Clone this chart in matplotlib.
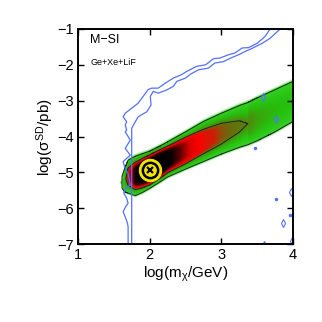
import numpy as np
import matplotlib
matplotlib.use("Agg")
import matplotlib.pyplot as plt
from matplotlib.colors import LinearSegmentedColormap

plt.rcParams['font.family'] = ['Liberation Sans', 'DejaVu Sans']
plt.rcParams['mathtext.fontset'] = 'custom'
plt.rcParams['mathtext.rm'] = 'Liberation Sans'
plt.rcParams['mathtext.it'] = 'Liberation Sans'

# posterior ridge: mass, centre, 68% and 95% half widths, peak height
ridge_m = [1.58, 1.61, 1.65, 1.67, 1.70, 1.80, 1.90, 2.00, 2.15, 2.25, 2.50, 2.75, 3.00, 3.25, 3.37, 3.50, 3.75, 4.00]
ridge_c = [-5.30, -5.28, -5.22, -5.18, -5.12, -5.10, -5.02, -4.93, -4.76, -4.64, -4.39, -4.14, -3.92, -3.72, -3.64, -3.52, -3.28, -3.02]
ridge_h95 = [0.00, 0.15, 0.32, 0.38, 0.46, 0.55, 0.54, 0.52, 0.50, 0.49, 0.52, 0.56, 0.57, 0.585, 0.59, 0.60, 0.59, 0.56]
ridge_h68 = [0.00, 0.00, 0.00, 0.00, 0.24, 0.38, 0.41, 0.42, 0.40, 0.37, 0.37, 0.34, 0.29, 0.16, 0.00, 0.00, 0.00, 0.00]
ridge_peak = [0.05, 0.10, 0.22, 0.30, 0.60, 0.88, 1.00, 1.00, 0.98, 0.93, 0.70, 0.45, 0.36, 0.32, 0.30, 0.25, 0.21, 0.19]
lev68, lev95, fringe = 0.30, 0.10, 0.08

# blue contours (other data set)
blue_out_x = [1.70, 1.70, 1.69, 1.66, 1.63, 1.67, 1.70, 1.68, 1.64, 1.66, 1.73, 1.70, 1.66, 1.63, 1.73, 1.66, 1.73, 1.66, 1.68, 1.66, 1.68, 1.63, 1.66,
              1.75, 1.84, 1.91, 1.98, 2.03, 2.12, 2.22, 2.33, 2.45, 2.52, 2.66, 2.78, 2.89, 2.98, 3.10, 3.19, 3.29, 3.38, 3.50, 3.61, 3.68]
blue_out_y = [-7.0, -6.52, -6.41, -6.24, -6.10, -5.94, -5.86, -5.72, -5.58, -5.45, -5.35, -5.03, -4.89, -4.70, -4.52, -4.33, -4.10, -3.87, -3.82, -3.68, -3.59, -3.45, -3.35,
              -3.21, -3.07, -2.88, -2.69, -2.65, -2.65, -2.51, -2.37, -2.27, -2.18, -2.04, -2.00, -1.83, -1.81, -1.72, -1.67, -1.53, -1.52, -1.40, -1.21, -1.0]
blue_in_x = [1.75, 1.75, 1.75, 1.80, 1.84, 1.96, 2.02, 2.01, 2.05, 2.12, 2.24, 2.33, 2.38, 2.50, 2.57, 2.68, 2.82, 2.91, 3.03, 3.12, 3.24, 3.33, 3.43, 3.57, 3.68, 3.82]
blue_in_y = [-7.0, -3.96, -3.77, -3.59, -3.45, -3.31, -3.12, -2.88, -2.74, -2.79, -2.70, -2.60, -2.46, -2.37, -2.26, -2.14, -2.09, -1.95, -1.91, -1.82, -1.72, -1.63, -1.54, -1.40, -1.26, -1.0]
island_x = [3.585, 3.763, 3.97, 3.865, 3.60, 3.99]
island_y = [-2.91, -3.52, -5.54, -6.42, -7.02, -6.92]
speck_x = [3.474, 3.76, 3.96]
speck_y = [-4.31, -5.73, -6.2]
bestfit_m, bestfit_s = 2.0, -4.93

xs = np.linspace(1, 4, 601)
ys = np.linspace(-7, -1, 601)
Z = np.zeros((len(ys), len(xs)))
for j, x in enumerate(xs):
    if x < ridge_m[0]:
        continue
    c = np.interp(x, ridge_m, ridge_c)
    h2 = np.interp(x, ridge_m, ridge_h95)
    h1 = np.interp(x, ridge_m, ridge_h68)
    a = np.interp(x, ridge_m, ridge_peak)
    d = np.abs(ys - c)
    if a > lev68 and h1 > 0:
        core = lev68 + (a - lev68) * (1 - (d / h1) ** 5)
        prof = np.where(d < h1, core, np.interp(d, [h1, h2, h2 + fringe], [lev68, lev95, 0]))
    elif a > lev95 and h2 > 0:
        core = lev95 + (a - lev95) * (1 - (d / h2) ** 2)
        prof = np.where(d < h2, core, np.interp(d, [h2, h2 + fringe], [lev95, 0]))
    else:
        prof = np.interp(d, [0, fringe], [a, 0])
    Z[:, j] = prof

cmap = LinearSegmentedColormap.from_list("post", [
    (0.0, (1, 1, 1)), (0.03, (0.85, 0.97, 0.85)), (0.07, (0.5, 0.9, 0.45)),
    (0.10, (0.2, 0.82, 0.15)), (0.2, (0.15, 0.75, 0.05)), (0.29, (0.3, 0.55, 0.05)),
    (0.34, (0.42, 0.42, 0.05)), (0.40, (0.8, 0.12, 0.02)), (0.5, (1, 0, 0)),
    (0.65, (0.85, 0, 0)), (0.78, (0.35, 0, 0)), (0.88, (0.05, 0, 0)), (1.0, (0, 0, 0))])

fig = plt.figure(figsize=(3.22, 3.22), dpi=100)
ax = fig.add_axes([0.242, 0.242, 0.668, 0.668])
ax.imshow(Z, extent=[1, 4, -7, -1], origin='lower', aspect='auto', cmap=cmap, vmin=0, vmax=1,
          interpolation='bilinear')
ax.contour(xs, ys, Z, levels=[lev95, lev68], colors='#222222', linewidths=0.7)

blue = '#5470ff'
ax.plot(blue_out_x, blue_out_y, color=blue, lw=0.9)
ax.plot(blue_in_x, blue_in_y, color=blue, lw=0.9)
ax.plot(island_x, island_y, 'd', ms=4, mfc='none', mec=blue, mew=0.8)
ax.plot(speck_x, speck_y, 'o', ms=1.5, color=blue)

# best fit point
ax.plot(bestfit_m, bestfit_s, 'o', ms=16, mfc='#f2e600', mec='#f2e600', mew=0.8)
ax.plot(bestfit_m, bestfit_s, 'o', ms=11, mfc='none', mec='k', mew=1.8)
ax.plot(bestfit_m, bestfit_s, 'x', ms=5, mec='k', mew=1.6)

ax.text(1.17, -1.38, 'M\u2212SI', fontsize=9)
ax.text(1.17, -2.0, 'Ge+Xe+LiF', fontsize=6.5)

ax.set_xlim(1, 4)
ax.set_ylim(-7, -1)
ax.set_xticks([1, 2, 3, 4])
ax.set_yticks([-7, -6, -5, -4, -3, -2, -1])
ax.tick_params(direction='in', top=True, right=True, length=4, width=1, labelsize=10.5, pad=3)
for s in ax.spines.values():
    s.set_linewidth(1.4)
ax.set_xlabel(r'log(m$_{\chi}$/GeV)', fontsize=11, labelpad=2)
ax.set_ylabel(r'log($\sigma^{SD}$/pb)', fontsize=11, labelpad=1)

fig.savefig('out.png', dpi=100)
